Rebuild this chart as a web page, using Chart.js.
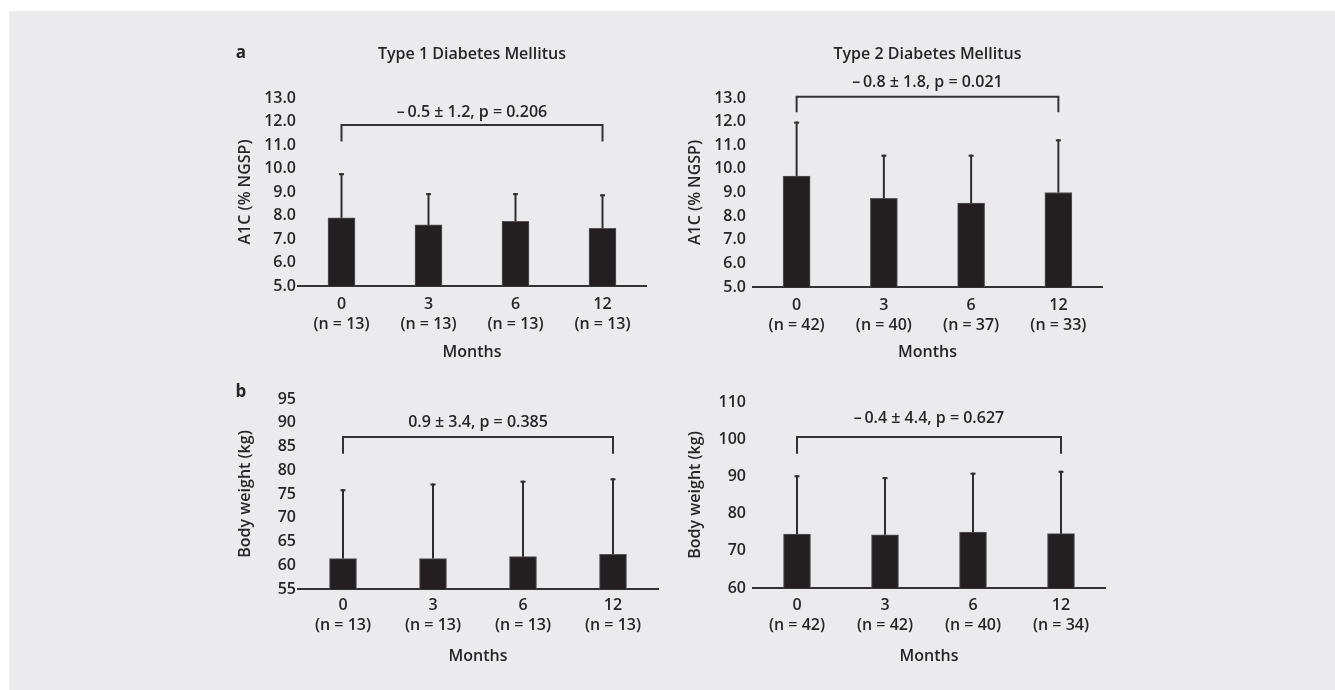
<!DOCTYPE html>
<html>
<head>
<meta charset="utf-8">
<script src="https://cdn.jsdelivr.net/npm/chart.js@4.4.1/dist/chart.umd.min.js"></script>
<style>
    body { margin: 0; background: #fff; width: 1335px; height: 690px; overflow: hidden; position: relative; }
    #bg { position: absolute; left: 9px; top: 11px; right: 0; bottom: 0; background: #ebebed; }
    canvas { position: absolute; }
</style>
</head>
<body>
<div id="bg"></div>
<canvas id="t1a1c" width="470" height="340" style="left:200px;top:30px"></canvas>
<canvas id="t2a1c" width="470" height="340" style="left:660px;top:30px"></canvas>
<canvas id="t1bw" width="470" height="310" style="left:200px;top:370px"></canvas>
<canvas id="t2bw" width="470" height="310" style="left:660px;top:370px"></canvas>
<script>
// Data
const months = ['0', '3', '6', '12'];

const t1A1cMean = [7.9, 7.6, 7.75, 7.45];
const t1A1cSd = [1.9, 1.35, 1.2, 1.45];
const t1A1cN = [13, 13, 13, 13];

const t2A1cMean = [9.7, 8.75, 8.55, 9.0];
const t2A1cSd = [2.3, 1.85, 2.05, 2.25];
const t2A1cN = [42, 40, 37, 33];

const t1WeightMean = [61.4, 61.4, 61.8, 62.3];
const t1WeightSd = [14.6, 15.8, 16.0, 16.0];
const t1WeightN = [13, 13, 13, 13];

const t2WeightMean = [74.5, 74.3, 75.0, 74.6];
const t2WeightSd = [15.8, 15.5, 16.0, 16.9];
const t2WeightN = [42, 42, 40, 34];

const a1cTicks = [5, 6, 7, 8, 9, 10, 11, 12, 13];
const t1WeightTicks = [55, 60, 65, 70, 75, 80, 85, 90, 95];
const t2WeightTicks = [60, 70, 80, 90, 100, 110];

// bracket [bar level, leg end] and its label
const t1A1cBracket = [11.85, 11.15];
const t2A1cBracket = [13.05, 12.4];
const t1WeightBracket = [87.0, 83.5];
const t2WeightBracket = [100.6, 96.1];
const t1A1cDiff = '\u2013\u20090.5 \u00b1 1.2, p = 0.206';
const t2A1cDiff = '\u2013\u20090.8 \u00b1 1.8, p = 0.021';
const t1WeightDiff = '0.9 \u00b1 3.4, p = 0.385';
const t2WeightDiff = '\u2013\u20090.4 \u00b1 4.4, p = 0.627';

const FONT = '"Open Sans", sans-serif';
const INK = '#262626';
const SIZE = 16;
const WEIGHT = '600';

const panelPlugin = {
    id: 'panel',
    afterDatasetsDraw(chart) {
        const ctx = chart.ctx;
        const y = chart.scales.y;
        const ds = chart.data.datasets[0];
        const meta = chart.getDatasetMeta(0);
        ctx.save();
        ctx.strokeStyle = '#2e2e2e';
        ctx.lineWidth = 2;
        meta.data.forEach((bar, i) => {
            const top = y.getPixelForValue(ds.data[i] + ds.sd[i]);
            ctx.beginPath();
            ctx.moveTo(bar.x, bar.y);
            ctx.lineTo(bar.x, top);
            ctx.stroke();
            ctx.beginPath();
            ctx.moveTo(bar.x - 2.5, top + 1);
            ctx.lineTo(bar.x + 2.5, top + 1);
            ctx.stroke();
        });
        ctx.restore();
    },
    afterDraw(chart, args, opts) {
        const ctx = chart.ctx;
        const area = chart.chartArea;
        const y = chart.scales.y;
        const meta = chart.getDatasetMeta(0);
        const cx = (area.left + area.right) / 2;
        ctx.save();
        ctx.fillStyle = INK;
        ctx.textAlign = 'center';
        ctx.textBaseline = 'middle';

        if (opts.letter) {
            ctx.font = 'bold 17px ' + FONT;
            ctx.fillText(opts.letter, opts.letterX, opts.letterY);
        }
        ctx.font = WEIGHT + ' ' + SIZE + 'px ' + FONT;
        if (opts.title) ctx.fillText(opts.title, cx, opts.titleY);
        ctx.fillText('Months', cx, area.bottom + opts.monthsDy);

        ctx.save();
        ctx.translate(area.left + opts.yTitleDx, (area.top + area.bottom) / 2);
        ctx.rotate(-Math.PI / 2);
        ctx.fillText(opts.yTitle, 0, 0);
        ctx.restore();

        // bracket between first and last month
        const x0 = meta.data[0].x, x1 = meta.data[meta.data.length - 1].x;
        const yb = y.getPixelForValue(opts.bracket[0]);
        const yl = y.getPixelForValue(opts.bracket[1]);
        ctx.strokeStyle = '#333';
        ctx.lineWidth = 2;
        ctx.beginPath();
        ctx.moveTo(x0, yl);
        ctx.lineTo(x0, yb);
        ctx.lineTo(x1, yb);
        ctx.lineTo(x1, yl);
        ctx.stroke();
        ctx.fillText(opts.diff, (x0 + x1) / 2, yb - opts.textGap);
        ctx.restore();
    }
};

function makePanel(id, mean, sd, n, ticks, decimals, box, panel) {
    const ctx = document.getElementById(id).getContext('2d');
    new Chart(ctx, {
        type: 'bar',
        data: {
            labels: months.map((m, i) => [m, '(n = ' + n[i] + ')']),
            datasets: [{
                data: mean,
                sd: sd,
                base: ticks[0],
                backgroundColor: '#231f20',
                borderColor: '#555',
                borderWidth: 1,
                barThickness: 27
            }]
        },
        options: {
            responsive: false,
            animation: false,
            layout: { padding: { left: 0, right: box.right, top: box.top, bottom: 0 } },
            plugins: {
                legend: { display: false },
                tooltip: { enabled: false },
                panel: panel
            },
            scales: {
                x: {
                    grid: { display: false, drawTicks: false },
                    border: { display: true, color: '#333', width: 2 },
                    ticks: {
                        color: INK,
                        padding: box.xPad,
                        font: { family: FONT, size: SIZE, weight: WEIGHT, lineHeight: 1.25 }
                    },
                    afterFit: s => { s.height = box.xHeight; }
                },
                y: {
                    min: ticks[0],
                    max: ticks[ticks.length - 1],
                    grid: { display: false, drawTicks: false },
                    border: { display: false },
                    ticks: {
                        stepSize: ticks[1] - ticks[0],
                        color: INK,
                        padding: box.yPad,
                        font: { family: FONT, size: SIZE, weight: WEIGHT },
                        callback: v => v.toFixed(decimals)
                    },
                    afterFit: s => { s.width = box.yWidth; }
                }
            }
        },
        plugins: [panelPlugin]
    });
}

makePanel('t1a1c', t1A1cMean, t1A1cSd, t1A1cN, a1cTicks, 1,
    { right: 24, top: 68, xHeight: 84, yWidth: 98, xPad: 8, yPad: 2 },
    { letter: 'a', letterX: 41, letterY: 23, title: 'Type 1 Diabetes Mellitus', titleY: 24,
      yTitle: 'A1C (% NGSP)', yTitleDx: -53, monthsDy: 66,
      bracket: t1A1cBracket, diff: t1A1cDiff, textGap: 13 });

makePanel('t2a1c', t2A1cMean, t2A1cSd, t2A1cN, a1cTicks, 1,
    { right: 28, top: 68, xHeight: 83, yWidth: 93, xPad: 8, yPad: 7 },
    { title: 'Type 2 Diabetes Mellitus', titleY: 24,
      yTitle: 'A1C (% NGSP)', yTitleDx: -58, monthsDy: 65,
      bracket: t2A1cBracket, diff: t2A1cDiff, textGap: 14 });

makePanel('t1bw', t1WeightMean, t1WeightSd, t1WeightN, t1WeightTicks, 0,
    { right: 12, top: 29, xHeight: 91, yWidth: 98, xPad: 6, yPad: 2 },
    { letter: 'b', letterX: 41, letterY: 22,
      yTitle: 'Body weight (kg)', yTitleDx: -53, monthsDy: 67,
      bracket: t1WeightBracket, diff: t1WeightDiff, textGap: 15 });

makePanel('t2bw', t2WeightMean, t2WeightSd, t2WeightN, t2WeightTicks, 0,
    { right: 25, top: 32, xHeight: 92, yWidth: 93, xPad: 7, yPad: 7 },
    { yTitle: 'Body weight (kg)', yTitleDx: -58, monthsDy: 68,
      bracket: t2WeightBracket, diff: t2WeightDiff, textGap: 19 });
</script>
</body>
</html>
